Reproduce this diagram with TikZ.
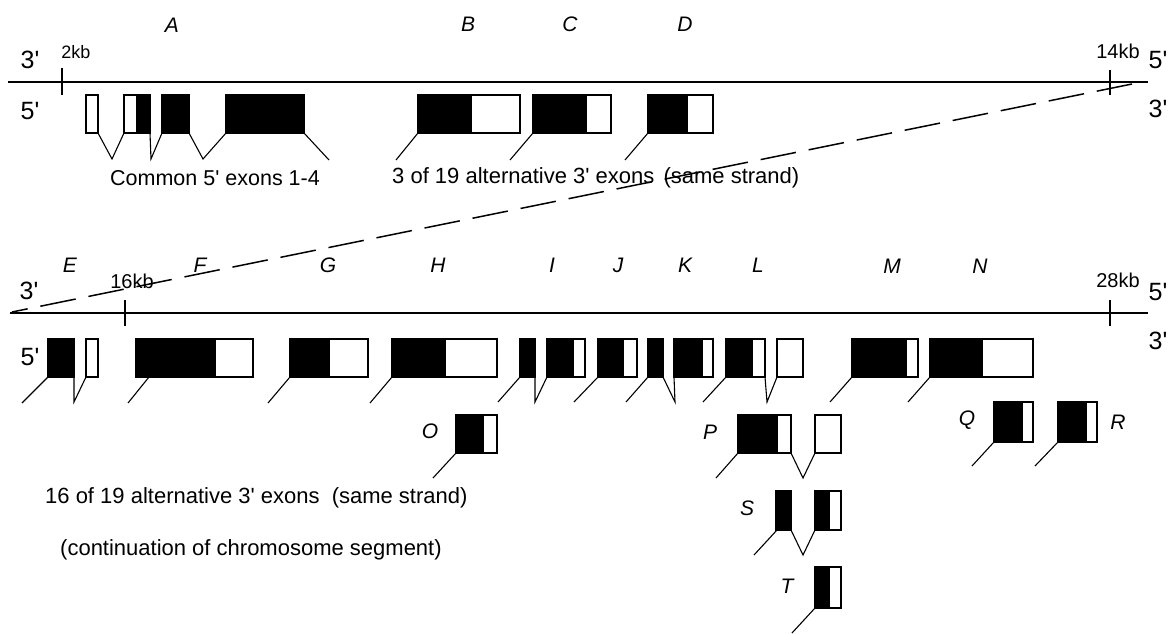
\documentclass[tikz,border=0pt]{standalone}
\usepackage{fontspec}
\setmainfont{Liberation Sans}[Ligatures=TeXOff]
\begin{document}
\begin{tikzpicture}[x=1pt,y=-1pt,
  lbl/.style={font=\fontsize{21}{25}\selectfont\itshape, inner sep=0pt},
  txt/.style={font=\fontsize{22}{26}\selectfont, inner sep=0pt},
  kb/.style={font=\fontsize{20}{24}\selectfont, inner sep=0pt},
  strand/.style={font=\fontsize{25}{30}\selectfont, inner sep=0pt},
  blk/.style={fill=black, draw=black, line width=1.2pt},
  wht/.style={fill=white, draw=black, line width=1.2pt},
  intron/.style={line width=1.1pt},
  chrom/.style={line width=1.6pt},
  link/.style={line width=1.5pt, dash pattern=on 36pt off 13pt}]
\useasboundingbox[fill=white] (0,0) rectangle (1172,634);

% ---------- chromosome segment 1 ----------
\coordinate (c1a) at (8,82);
\coordinate (c1b) at (1148,82);
\draw[chrom] (c1a) -- (c1b);
\draw[chrom] (62,68) -- (62,95);
\draw[chrom] (1110,70) -- (1110,95);
\node[strand] (t3a) at (30,60) {3'};
\node[strand] (t5a) at (30,111) {5'};
\node[strand] (t5b) at (1158,60) {5'};
\node[strand] (t3b) at (1158,109) {3'};
\node[kb, font=\fontsize{18}{21}\selectfont] (kb2) at (76,52) {2kb};
\node[kb] (kb14) at (1118,51) {14kb};

% ---------- chromosome segment 2 ----------
\coordinate (c2a) at (10,313);
\coordinate (c2b) at (1148,313);
\draw[chrom] (c2a) -- (c2b);
\draw[chrom] (125,300) -- (125,326);
\draw[chrom] (1110,300) -- (1110,326);
\node[strand] (t3c) at (29,291) {3'};
\node[strand] (t5c) at (30,357) {5'};
\node[strand] (t5d) at (1158,292) {5'};
\node[strand] (t3d) at (1158,341) {3'};
\node[kb] (kb16) at (132,281) {16kb};
\node[kb] (kb28) at (1118,280) {28kb};

% continuation link
\coordinate (lnkA) at (1132,84);
\coordinate (lnkB) at (12,312);
\draw[link] (lnkA) -- (lnkB);

% ---------- labels ----------
\node[lbl] (lA) at (172,25) {A};
\node[lbl] (lB) at (468,24) {B};
\node[lbl] (lC) at (570,24) {C};
\node[lbl] (lD) at (685,24) {D};
\node[lbl] (lE) at (70,265) {E};
\node[lbl] (lF) at (200,265) {F};
\node[lbl] (lG) at (328,265) {G};
\node[lbl] (lH) at (438,265) {H};
\node[lbl] (lI) at (552,265) {I};
\node[lbl] (lJ) at (618,265) {J};
\node[lbl] (lK) at (685,265) {K};
\node[lbl] (lL) at (758,265) {L};
\node[lbl] (lM) at (892,266) {M};
\node[lbl] (lN) at (980,266) {N};
\node[lbl] (lO) at (430,431) {O};
\node[lbl] (lP) at (710,432) {P};
\node[lbl] (lQ) at (967,420) {Q};
\node[lbl] (lR) at (1118,422) {R};
\node[lbl] (lS) at (747,508) {S};
\node[lbl] (lT) at (787,586) {T};

% ---------- texts ----------
\node[txt, anchor=west, font=\fontsize{21.5}{25}\selectfont] (common) at (110,178) {Common 5' exons 1-4};
\node[txt, anchor=west] (alt3) at (392,178) {3 of 19 alternative 3' exons\hspace{3pt} (same strand)};
\node[txt, anchor=west] (alt16) at (45,498) {16 of 19 alternative 3' exons\hspace{6pt} (same strand)};
\node[txt, anchor=west] (cont) at (60,550) {(continuation of chromosome segment)};

% ---------- top row exons ----------
\draw[wht] (86,95) rectangle (98,133);
\draw[wht] (124,95) rectangle (137,133);
\draw[blk] (137,95) rectangle (150,133);
\draw[blk] (162,95) rectangle (189,133);
\draw[blk] (226,95) rectangle (304,133);
\draw[intron] (98,133) -- (112,159) -- (124,133);
\draw[intron] (150,133) -- (151,159) -- (162,133);
\draw[intron] (189,133) -- (203,159) -- (226,133);
\draw[intron] (304,133) -- (329,160);
% B
\draw[blk] (418,95) rectangle (471,133);
\draw[wht] (471,95) rectangle (520,133);
\draw[intron] (418,133) -- (396,160);
% C
\draw[blk] (533,95) rectangle (586,133);
\draw[wht] (586,95) rectangle (611,133);
\draw[intron] (533,133) -- (510,160);
% D
\draw[blk] (648,95) rectangle (687,133);
\draw[wht] (687,95) rectangle (713,133);
\draw[intron] (648,133) -- (625,160);

% ---------- bottom row exons ----------
% E
\draw[blk] (48,339) rectangle (74,377);
\draw[wht] (86,339) rectangle (98,377);
\draw[intron] (48,377) -- (22,403);
\draw[intron] (74,377) -- (74,402) -- (86,377);
% F
\draw[blk] (136,339) rectangle (215,377);
\draw[wht] (215,339) rectangle (253,377);
\draw[intron] (149,377) -- (128,403);
% G
\draw[blk] (290,339) rectangle (329,377);
\draw[wht] (329,339) rectangle (368,377);
\draw[intron] (290,377) -- (268,403);
% H
\draw[blk] (392,339) rectangle (445,377);
\draw[wht] (445,339) rectangle (497,377);
\draw[intron] (392,377) -- (370,403);
% I
\draw[blk] (520,339) rectangle (535,377);
\draw[intron] (535,377) -- (535,402) -- (547,377);
\draw[blk] (547,339) rectangle (573,377);
\draw[wht] (573,339) rectangle (585,377);
\draw[intron] (520,377) -- (498,402);
% J
\draw[blk] (598,339) rectangle (623,377);
\draw[wht] (623,339) rectangle (637,377);
\draw[intron] (598,377) -- (574,402);
% K
\draw[blk] (648,339) rectangle (663,377);
\draw[intron] (663,377) -- (675,402) -- (674,377);
\draw[blk] (674,339) rectangle (702,377);
\draw[wht] (702,339) rectangle (713,377);
\draw[intron] (648,377) -- (626,402);
% L
\draw[blk] (726,339) rectangle (752,377);
\draw[wht] (752,339) rectangle (765,377);
\draw[intron] (765,377) -- (767,402) -- (777,377);
\draw[wht] (777,339) rectangle (803,377);
\draw[intron] (726,377) -- (703,402);
% M
\draw[blk] (852,339) rectangle (906,377);
\draw[wht] (906,339) rectangle (918,377);
\draw[intron] (852,377) -- (830,402);
% N
\draw[blk] (930,339) rectangle (982,377);
\draw[wht] (982,339) rectangle (1033,377);
\draw[intron] (930,377) -- (908,402);
% O
\draw[blk] (456,415) rectangle (483,453);
\draw[wht] (483,415) rectangle (497,453);
\draw[intron] (456,453) -- (433,478);
% P
\draw[blk] (738,415) rectangle (777,453);
\draw[wht] (777,415) rectangle (791,453);
\draw[intron] (791,453) -- (803,478) -- (815,453);
\draw[wht] (815,415) rectangle (841,453);
\draw[intron] (738,453) -- (716,478);
% S
\draw[blk] (776,491) rectangle (791,530);
\draw[intron] (791,530) -- (803,555) -- (815,530);
\draw[blk] (815,491) rectangle (829,530);
\draw[wht] (829,491) rectangle (841,530);
\draw[intron] (777,530) -- (754,555);
% T
\draw[blk] (815,567) rectangle (829,608);
\draw[wht] (829,567) rectangle (841,608);
\draw[intron] (815,608) -- (792,633);
% Q
\draw[blk] (994,402) rectangle (1022,442);
\draw[wht] (1022,402) rectangle (1033,442);
\draw[intron] (994,442) -- (972,466);
% R
\draw[blk] (1058,402) rectangle (1086,442);
\draw[wht] (1086,402) rectangle (1097,442);
\draw[intron] (1058,442) -- (1035,466);
\end{tikzpicture}
\end{document}
